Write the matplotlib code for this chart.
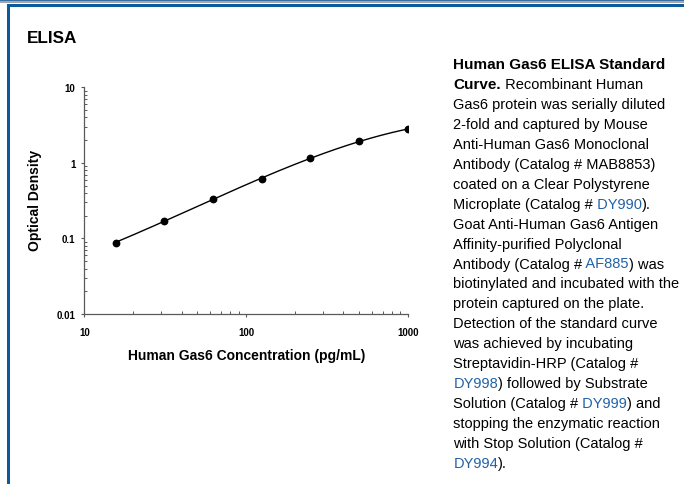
import matplotlib
matplotlib.use("Agg")
import matplotlib.pyplot as plt
from matplotlib.patches import Rectangle
import numpy as np

W, H = 684, 485

# standard curve points
conc = [15.6, 31.25, 62.5, 125, 250, 500, 1000]
od = [0.088, 0.172, 0.330, 0.614, 1.15, 1.95, 2.78]

xticks = [10, 100, 1000]
yticks = [0.01, 0.1, 1, 10]
ytick_labels = ["0.01", "0.1", "1", "10"]

# caption, one entry per line; (text, style) pieces, style: b=bold, n=normal, l=link
caption = [
    [("Human Gas6 ELISA Standard", "b")],
    [("Curve.", "b"), (" Recombinant Human", "n")],
    [("Gas6 protein was serially diluted", "n")],
    [("2-fold and captured by Mouse", "n")],
    [("Anti-Human Gas6 Monoclonal", "n")],
    [("Antibody (Catalog # MAB8853)", "n")],
    [("coated on a Clear Polystyrene", "n")],
    [("Microplate (Catalog #", "n"), (" DY990", "l"), (").", "n")],
    [("Goat Anti-Human Gas6 Antigen", "n")],
    [("Affinity-purified Polyclonal", "n")],
    [("Antibody (Catalog #", "n"), (" AF885", "l"), (") was", "n")],
    [("biotinylated and incubated with the", "n")],
    [("protein captured on the plate.", "n")],
    [("Detection of the standard curve", "n")],
    [("was achieved by incubating", "n")],
    [("Streptavidin-HRP (Catalog #", "n")],
    [("DY998", "l"), (") followed by Substrate", "n")],
    [("Solution (Catalog #", "n"), (" DY999", "l"), (") and", "n")],
    [("stopping the enzymatic reaction", "n")],
    [("with Stop Solution (Catalog #", "n")],
    [("DY994", "l"), (").", "n")],
]

plt.rcParams['font.family'] = ['Liberation Sans', 'DejaVu Sans']

BLUE = "#0b5a9c"
LINK = "#1f62a8"
AXC = "#595959"


def fx(px):
    return px / W


def fy(py):
    return 1 - py / H


fig = plt.figure(figsize=(W / 100, H / 100), dpi=100)

# frame: top double rule and left rule
fig.add_artist(Rectangle((0, fy(1.6)), 1, 1.6 / H, transform=fig.transFigure, color="#3a6ea5", lw=0))
fig.add_artist(Rectangle((0, fy(4)), 1, 2.4 / H, transform=fig.transFigure, color="#a6a6a6", lw=0))
fig.add_artist(Rectangle((fx(7), fy(8)), 1, 2.6 / H, transform=fig.transFigure, color=BLUE, lw=0))
fig.add_artist(Rectangle((fx(7), 0), 2.6 / W, fy(5.5), transform=fig.transFigure, color=BLUE, lw=0))

fig.text(fx(27), fy(43), "ELISA", fontsize=12.3, fontweight="bold", va="baseline")

ax = fig.add_axes([fx(84.3), fy(315), fx(407.7) - fx(84.3), fy(88.3) - fy(315)])
ax.set_xscale("log")
ax.set_yscale("log")
ax.set_xlim(10, 1000)
ax.set_ylim(0.01, 10)

# fitted curve (cubic in log-log space)
lx, ly = np.log10(conc), np.log10(od)
coef = np.polyfit(lx, ly, 3)
xs = np.linspace(lx[0], lx[-1], 200)
ax.plot(10 ** xs, 10 ** np.polyval(coef, xs), color="black", lw=1.0)
ax.plot(conc, od, "o", color="black", ms=4.6)

for s in ["top", "right"]:
    ax.spines[s].set_visible(False)
for s in ["left", "bottom"]:
    ax.spines[s].set_color(AXC)
    ax.spines[s].set_linewidth(0.9)

ax.set_xticks(xticks)
ax.set_xticklabels([str(t) for t in xticks])
ax.set_yticks(yticks)
ax.set_yticklabels(ytick_labels)
ax.tick_params(which="major", direction="out", length=2.5, width=0.8, color=AXC,
               labelsize=7, pad=4)
ax.tick_params(axis="x", which="major", pad=7)
ax.tick_params(which="minor", direction="in", length=2.2, width=0.7, color=AXC)
for lab in ax.get_xticklabels() + ax.get_yticklabels():
    lab.set_fontweight("bold")
ax.yaxis.set_minor_formatter(plt.NullFormatter())
ax.xaxis.set_minor_formatter(plt.NullFormatter())

fig.text(fx(247), fy(356), "Human Gas6 Concentration (pg/mL)", fontsize=10,
         fontweight="bold", ha="center", va="center")
fig.text(fx(35), fy(200), "Optical Density", fontsize=10, fontweight="bold",
         ha="center", va="center", rotation=90)

# caption on the right, pieces placed one after another
renderer = fig.canvas.get_renderer()
for i, pieces in enumerate(caption):
    x = fx(453.3)
    y = fy(69 + i * 19.95)
    for txt, st in pieces:
        t = fig.text(x, y, txt, va="baseline",
                     fontsize=11 if st == "b" else 10.5,
                     color=LINK if st == "l" else "black",
                     fontweight="bold" if st == "b" else "normal")
        x = fx(t.get_window_extent(renderer).x1)

fig.savefig("out.png", dpi=100)
